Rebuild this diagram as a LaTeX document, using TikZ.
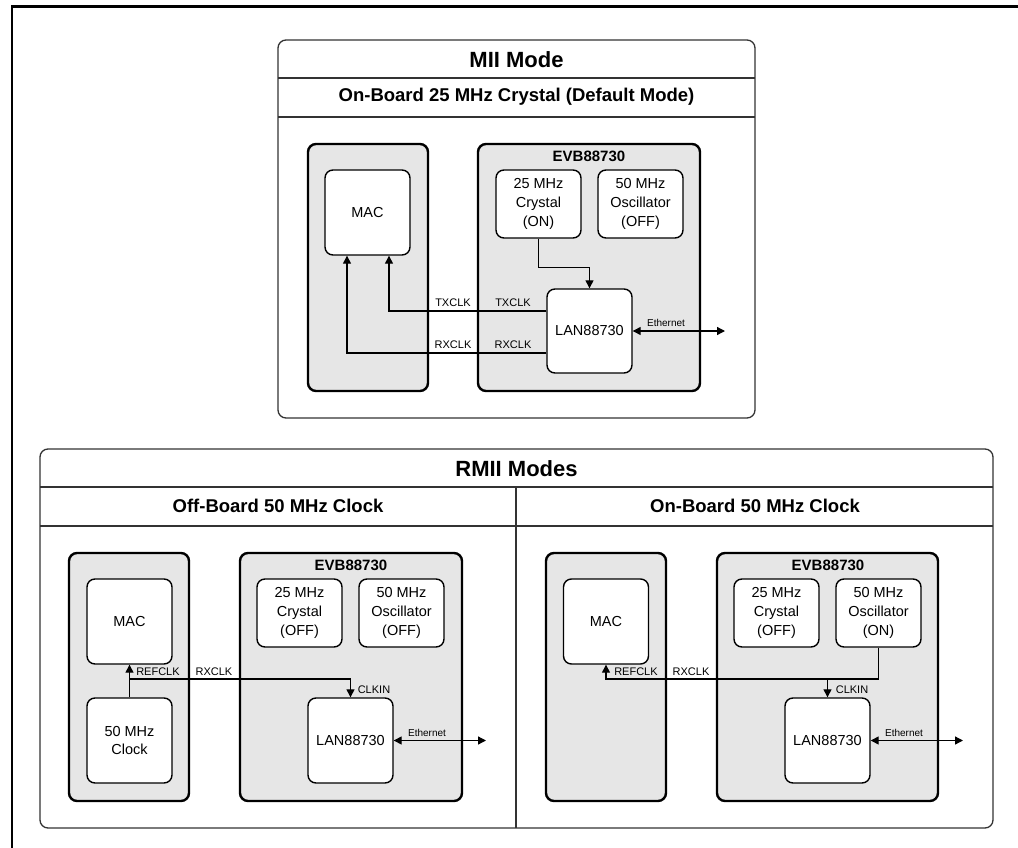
\documentclass[tikz,border=0pt]{standalone}
\usepackage{fontspec}
\setmainfont{Liberation Sans}
\usetikzlibrary{arrows.meta,positioning}
\definecolor{platagray}{HTML}{E6E6E6}
\definecolor{ramka}{HTML}{333333}
\tikzset{
  panel/.style={draw=ramka, line width=1.3pt, rounded corners=8pt},
  plata/.style={draw, fill=platagray, line width=2.4pt, rounded corners=8pt},
  blok/.style={draw, fill=white, line width=1.4pt, rounded corners=8pt,
    minimum width=85pt, align=center, inner sep=0pt,
    font=\fontsize{14.5}{18.7}\selectfont},
  svyaz/.style={line width=1.3pt, -{Triangle[length=8pt,width=8pt]}},
  dvustor/.style={line width=1.3pt, {Triangle[length=8pt,width=8pt]}-{Triangle[length=8pt,width=8pt]}},
  sig/.style={font=\fontsize{11}{13}\selectfont},
  eth/.style={font=\fontsize{10}{12}\selectfont},
  zagl/.style={font=\fontsize{22}{26}\selectfont\bfseries},
  podzagl/.style={font=\fontsize{18.5}{22}\selectfont\bfseries},
  evb/.style={font=\fontsize{15}{18}\selectfont\bfseries}
}
\begin{document}
\begin{tikzpicture}[x=1pt, y=-1pt]
\useasboundingbox (0,0) rectangle (1018,848);
% рамка
\draw [line width=2.3pt] (12,848) -- (12,6.5) -- (1018,6.5);
% MII
\draw [panel] (278,40) rectangle (755,418);
\draw [ramka, line width=1.3pt] (278,78) -- (755,78);
\draw [ramka, line width=1.3pt] (278,117) -- (755,117);
\node [zagl] (miititle) at (516.5,60) {MII Mode};
\node [podzagl] (miisub) at (516.5,97) {On-Board 25 MHz Crystal (Default Mode)};
\draw [plata] (308,144) rectangle (428,391);
\draw [plata] (478,144) rectangle (700,391);
\node [evb] (evb1) at (589,156) {EVB88730};
\node [blok, minimum height=85pt] (mac1) at (367.5,212.5) {MAC};
\node [blok, minimum height=68pt] (xtal1) at (538.5,204) {25 MHz\\Crystal\\(ON)};
\node [blok, minimum height=68pt] (osc1) at (640.5,204) {50 MHz\\Oscillator\\(OFF)};
\node [blok, minimum height=84pt] (lan1) at (589.5,331) {LAN88730};
\coordinate (eth1) at (725,331);
\draw [svyaz] (xtal1.south) -- ++(0,29) -| (lan1.north);
\draw [svyaz] ([yshift=20pt]lan1.west) -| ([xshift=21.5pt]mac1.south);
\draw [svyaz] ([yshift=-22pt]lan1.west) -| ([xshift=-20.5pt]mac1.south);
\draw [dvustor] (lan1.east) -- (eth1);
\node [sig] (tx1a) at (453,303) {TXCLK};
\node [sig] (tx1b) at (513,303) {TXCLK};
\node [sig] (rx1a) at (453,345) {RXCLK};
\node [sig] (rx1b) at (513,345) {RXCLK};
\node [eth] (et1) at (666,323) {Ethernet};
% RMII
\draw [panel] (40,449) rectangle (993,828);
\draw [ramka, line width=1.3pt] (40,487) -- (993,487);
\draw [ramka, line width=1.3pt] (40,526) -- (993,526);
\draw [ramka, line width=1.3pt] (516,487) -- (516,828);
\node [zagl] (rmiititle) at (516.5,469) {RMII Modes};
\node [podzagl] (offsub) at (278,506) {Off-Board 50 MHz Clock};
\node [podzagl] (onsub) at (755,506) {On-Board 50 MHz Clock};
% слева
\draw [plata] (69,553) rectangle (189,801);
\draw [plata] (240,553) rectangle (462,801);
\node [evb] (evb2) at (351,565) {EVB88730};
\node [blok, minimum height=85pt] (mac2) at (129.5,621.5) {MAC};
\node [blok, minimum height=85pt] (clk2) at (129.5,740.5) {50 MHz\\Clock};
\node [blok, minimum height=68pt] (xtal2) at (299.5,613) {25 MHz\\Crystal\\(OFF)};
\node [blok, minimum height=68pt] (osc2) at (401.5,613) {50 MHz\\Oscillator\\(OFF)};
\node [blok, minimum height=85pt] (lan2) at (350.5,740.5) {LAN88730};
\coordinate (j2) at (129.5,679);
\coordinate (eth2) at (486,740.5);
\draw [svyaz] (clk2.north) -- (mac2.south);
\draw [svyaz] (j2) -| (lan2.north);
\draw [dvustor] (lan2.east) -- (eth2);
\node [sig] (ref2) at (158,672) {REFCLK};
\node [sig] (rx2) at (214,672) {RXCLK};
\node [sig] (clkin2) at (374,690) {CLKIN};
\node [eth] (et2) at (427,733) {Ethernet};
% справа
\draw [plata] (546,553) rectangle (666,801);
\draw [plata] (717,553) rectangle (938,801);
\node [evb] (evb3) at (828,565) {EVB88730};
\node [blok, minimum height=85pt] (mac3) at (606,621.5) {MAC};
\node [blok, minimum height=68pt] (xtal3) at (776.5,613) {25 MHz\\Crystal\\(OFF)};
\node [blok, minimum height=68pt] (osc3) at (878.5,613) {50 MHz\\Oscillator\\(ON)};
\node [blok, minimum height=85pt] (lan3) at (827.5,740.5) {LAN88730};
\coordinate (j3) at (827.5,679);
\coordinate (eth3) at (963,740.5);
\draw [svyaz] (osc3.south) |- (mac3.south |- j3) -- (mac3.south);
\draw [svyaz] (j3) -- (lan3.north);
\draw [dvustor] (lan3.east) -- (eth3);
\node [sig] (ref3) at (636,672) {REFCLK};
\node [sig] (rx3) at (691,672) {RXCLK};
\node [sig] (clkin3) at (852,690) {CLKIN};
\node [eth] (et3) at (904,733) {Ethernet};
\end{tikzpicture}
\end{document}
